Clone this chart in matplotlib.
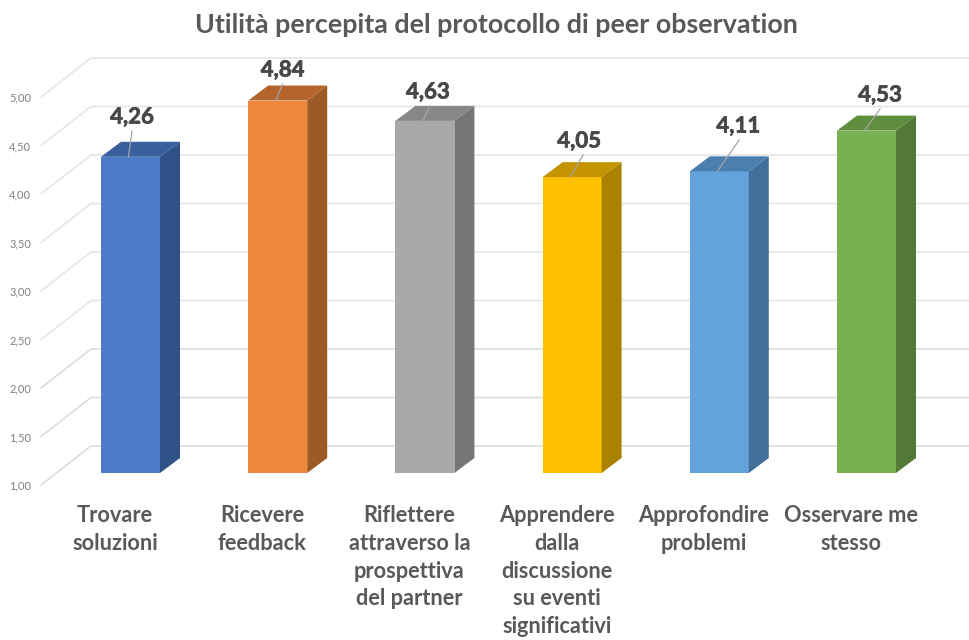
import matplotlib
matplotlib.use('Agg')
import matplotlib.pyplot as plt
import matplotlib.patheffects as pe
from matplotlib.patches import Polygon

plt.rcParams['font.family'] = ['Lato', 'DejaVu Sans']

title = 'Utilità percepita del protocollo di peer observation'
categories = ['Trovare\nsoluzioni', 'Ricevere\nfeedback',
              'Riflettere\nattraverso la\nprospettiva\ndel partner',
              'Apprendere\ndalla\ndiscussione\nsu eventi\nsignificativi',
              'Approfondire\nproblemi', 'Osservare me\nstesso']
values = [4.26, 4.84, 4.63, 4.05, 4.11, 4.53]
value_labels = ['4,26', '4,84', '4,63', '4,05', '4,11', '4,53']
ticks = [1.0, 1.5, 2.0, 2.5, 3.0, 3.5, 4.0, 4.5, 5.0]
tick_labels = ['1,00', '1,50', '2,00', '2,50', '3,00', '3,50', '4,00', '4,50', '5,00']

front_colors = ['#4f7cc9', '#f0863a', '#a9a9a9', '#ffc000', '#63a2da', '#77b250']
top_colors = ['#3a5f9e', '#b5652b', '#878787', '#c49400', '#4a7fae', '#5f8f3e']
side_colors = ['#2f5288', '#9e5a24', '#757575', '#ab8100', '#41719a', '#527a36']

# value label placement in pixels
label_dx = [1.5, 5, 3, 7, 19, 13.5]
leader_dx = [1.5, 5, 5, 11, 20, 13.5]
label_y = [117, 70, 92, 141, 126, 95]

W, H = 969, 640
PX_X = 147.2      # pixels per category
PX_Y = 97.0       # pixels per unit
X0 = 130.5        # pixel of first bar centre
Y1 = 473.0        # pixel of value 1


def dx(p):
    return p / PX_X


def dy(p):
    return p / PX_Y


def py(p):
    return 1 + (Y1 - p) / PX_Y


def px(p):
    return (p - X0) / PX_X


fig = plt.figure(figsize=(W / 100, H / 100), dpi=100)
ax = fig.add_axes([0, 0, 1, 1])
ax.set_xlim(px(0), px(W))
ax.set_ylim(py(H), py(0))
ax.axis('off')

# walls
for t, lab in zip(ticks, tick_labels):
    y_front = t - dy(12)
    y_back = t + dy(27)
    col = '#e6e6e6' if t > 2.2 else '#dcdcdc'
    ax.plot([px(41), px(91), px(W)], [y_front, y_back, y_back], color=col, lw=1.2, zorder=1)
    ax.text(px(31), y_front - dy(1), lab, ha='right', va='center', fontsize=8, color='#808080')

bar_w = 59 / PX_X
depth_x = dx(20)
depth_y = dy(15)
for i, v in enumerate(values):
    ax.bar(i, v - 1, bottom=1, width=bar_w, color=front_colors[i], zorder=3)
    l, r = i - bar_w / 2, i + bar_w / 2
    ax.add_patch(Polygon([(l, v), (r, v), (r + depth_x, v + depth_y), (l + depth_x, v + depth_y)],
                         closed=True, fc=top_colors[i], ec='none', zorder=3))
    ax.add_patch(Polygon([(r, 1), (r + depth_x, 1 + depth_y), (r + depth_x, v + depth_y), (r, v)],
                         closed=True, fc=side_colors[i], ec='none', zorder=3))
    # leader line and value
    ax.plot([i - dx(2), i + dx(leader_dx[i])], [v, py(label_y[i] + 14)], color='#a6a6a6', lw=0.9, zorder=4)
    ax.text(i + dx(label_dx[i]), py(label_y[i]), value_labels[i], ha='center', va='center',
            fontsize=16, fontweight='bold', color='#484848', zorder=5,
            path_effects=[pe.withStroke(linewidth=0.5, foreground='#484848')])
    ax.text(i - dx(15.5), py(505.5), categories[i], ha='center', va='top', fontsize=15.7,
            fontweight='bold', color='#595959', linespacing=1.39, zorder=5)

ax.text(px(496), py(25), title, ha='center', va='center', fontsize=19.4,
        fontweight='bold', color='#595959')

fig.savefig('out.png', dpi=100)
